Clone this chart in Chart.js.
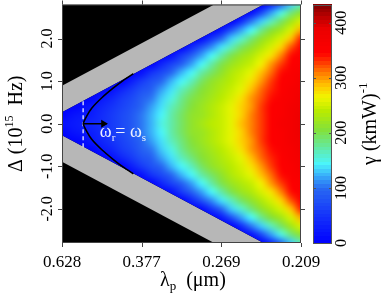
<!DOCTYPE html>
<html>
<head>
<meta charset="utf-8">
<script src="https://cdn.jsdelivr.net/npm/chart.js@4.4.0/dist/chart.umd.min.js"></script>
<style>
  html, body { margin: 0; padding: 0; background: #fff; }
  canvas { display: block; }
</style>
</head>
<body>
<canvas id="chart" width="382" height="293"></canvas>
<script>
// pump frequency columns (10^15 rad/s, linear axis, labelled as wavelength)
const omegaCols = [3.0, 3.25, 3.5, 3.75, 4.0, 4.25, 4.5, 4.75, 5.0, 5.25, 5.5, 5.75, 6.0,
                   6.25, 6.5, 6.75, 7.0, 7.25, 7.5, 7.75, 8.0, 8.25, 8.5, 8.75, 9.0];
// detuning rows (10^15 Hz), map is symmetric so only the upper half is listed
const deltaRows = [0, 0.2, 0.4, 0.6, 0.8, 1.0, 1.2, 1.4, 1.6, 1.8, 2.0, 2.2, 2.4, 2.6, 2.8];

// gamma (1/(km W)), one array per detuning row
const g00 = [16, 22, 28, 35, 44, 56, 70, 86, 104, 127, 149, 171, 193, 211, 224, 237, 250, 263, 285, 308, 330, 349, 359, 370, 380];
const g02 = [6, 14, 24, 33, 43, 55, 69, 85, 102, 125, 148, 170, 191, 210, 223, 236, 249, 262, 284, 307, 329, 348, 358, 369, 379];
const g04 = [2, 3, 11, 24, 38, 51, 65, 80, 97, 118, 141, 164, 186, 207, 220, 233, 246, 260, 279, 303, 325, 346, 356, 367, 377];
const g06 = [null, null, 2, 6, 22, 40, 55, 72, 89, 108, 131, 154, 176, 199, 215, 228, 242, 255, 272, 298, 321, 344, 355, 365, 375];
const g08 = [null, null, null, 2, 3, 16, 39, 58, 76, 94, 116, 140, 163, 186, 207, 221, 235, 249, 263, 288, 313, 335, 350, 360, 370];
const g10 = [null, null, null, null, null, 2, 4, 32, 56, 76, 97, 122, 146, 169, 193, 212, 227, 242, 257, 277, 303, 328, 348, 358, 368];
const g12 = [null, null, null, null, null, null, null, 2, 18, 49, 73, 97, 123, 148, 172, 196, 215, 231, 246, 262, 289, 316, 342, 354, 364];
const g14 = [null, null, null, null, null, null, null, null, 2, 4, 36, 66, 94, 121, 147, 172, 198, 217, 233, 250, 268, 301, 328, 349, 358];
const g16 = [null, null, null, null, null, null, null, null, null, null, 2, 16, 57, 88, 117, 144, 170, 197, 217, 235, 253, 276, 311, 339, 353];
const g18 = [null, null, null, null, null, null, null, null, null, null, null, 2, 3, 35, 75, 109, 138, 165, 193, 216, 235, 254, 283, 320, 347];
const g20 = [null, null, null, null, null, null, null, null, null, null, null, null, null, 2, 7, 54, 99, 129, 157, 186, 213, 233, 254, 288, 335];
const g22 = [null, null, null, null, null, null, null, null, null, null, null, null, null, null, null, 2, 25, 76, 116, 146, 176, 206, 229, 253, 293];
const g24 = [null, null, null, null, null, null, null, null, null, null, null, null, null, null, null, null, 2, 3, 46, 103, 134, 165, 196, 224, 252];
const g26 = [null, null, null, null, null, null, null, null, null, null, null, null, null, null, null, null, null, null, 2, 16, 72, 118, 150, 183, 212];
const g28 = [null, null, null, null, null, null, null, null, null, null, null, null, null, null, null, null, null, null, null, 2, 3, 36, 101, 135, 167];
const gammaRows = [g00, g02, g04, g06, g08, g10, g12, g14, g16, g18, g20, g22, g24, g26, g28];

// edges of the computed region and of the grey band (detuning at omega = 3 and 9)
const edgeW = [3, 9];
const innerEdge = [0.27, 3.27];
const outerEdge = [0.89, 3.89];

// resonance curve omega_r = omega_s
const curveW = [4.79, 4.54, 4.29, 4.0, 3.75, 3.62, 3.535, 3.62, 3.75, 4.0, 4.29, 4.54, 4.79];
const curveD = [1.175, 1.02, 0.84, 0.61, 0.37, 0.18, 0, -0.18, -0.37, -0.61, -0.84, -1.02, -1.175];
const dashW = [3.53, 3.53];
const dashD = [-0.55, 0.55];
const arrowW = [3.535, 4.12];
const arrowD = [0, 0];

// ticks
const xTickValues = [3, 5, 7, 9];
const xTickLabels = ['0.628', '0.377', '0.269', '0.209'];
const yTickValues = [-2, -1, 0, 1, 2];
const yTickLabels = ['-2.0', '-1.0', '0.0', '1.0', '2.0'];
const cbTickValues = [0, 100, 200, 300, 400];
const cbMax = 433;

// colour map (jet-like, starting at pure blue)
const cmapVals = [0, 50, 100, 125, 145, 170, 205, 240, 265, 285, 305, 325, 345, 390, 410, 433];
const cmapRGB = [[0, 0, 255], [20, 50, 250], [40, 105, 242], [58, 180, 250], [75, 245, 250],
                 [95, 235, 175], [130, 225, 60], [185, 235, 0], [240, 245, 0], [255, 200, 0],
                 [255, 140, 0], [255, 70, 0], [255, 0, 0], [235, 0, 0], [190, 0, 0], [130, 0, 0]];
const nLevels = 64;

const serif = '"Liberation Serif", "Times New Roman", serif';

function cmapRGBOf(v) {
    // snap to one of 64 levels like the original colour table
    let lv = Math.min(nLevels - 1, Math.max(0, Math.floor(v / cbMax * nLevels)));
    let q = (lv + 0.5) * cbMax / nLevels;
    let k = 0;
    while (k < cmapVals.length - 2 && q > cmapVals[k + 1]) k++;
    const t = Math.min(1, Math.max(0, (q - cmapVals[k]) / (cmapVals[k + 1] - cmapVals[k])));
    const a = cmapRGB[k], b = cmapRGB[k + 1];
    return [0, 1, 2].map(c => Math.round(a[c] + (b[c] - a[c]) * t));
}
function cmap(v) {
    const c = cmapRGBOf(v);
    return `rgb(${c[0]},${c[1]},${c[2]})`;
}

function drawRich(ctx, parts, x, y, size, align) {
    ctx.textAlign = 'left';
    let w = 0;
    parts.forEach(p => {
        ctx.font = `${p.size || size}px ${serif}`;
        p.w = ctx.measureText(p.t).width;
        w += p.w;
    });
    let cx = align === 'center' ? x - w / 2 : x;
    parts.forEach(p => {
        ctx.font = `${p.size || size}px ${serif}`;
        ctx.fillText(p.t, cx, y + (p.dy || 0));
        cx += p.w;
    });
}

// one pixel per data cell, upper half mirrored to the lower half
function buildCellImage() {
    const nr = deltaRows.length, nc = omegaCols.length;
    const off = document.createElement('canvas');
    off.width = nc;
    off.height = 2 * nr - 1;
    const octx = off.getContext('2d');
    const img = octx.createImageData(nc, 2 * nr - 1);
    for (let r = 0; r < 2 * nr - 1; r++) {
        const row = gammaRows[Math.abs(r - (nr - 1))];
        for (let i = 0; i < nc; i++) {
            const v = row[i] === null ? 0 : row[i];
            const c = cmapRGBOf(v);
            const o = (r * nc + i) * 4;
            img.data[o] = c[0]; img.data[o + 1] = c[1]; img.data[o + 2] = c[2]; img.data[o + 3] = 255;
        }
    }
    octx.putImageData(img, 0, 0);
    return off;
}
const cellImage = buildCellImage();

const heatPlugin = {
    id: 'heat',
    beforeDatasetsDraw(chart) {
        const { ctx, chartArea: a, scales } = chart;
        const px = v => scales.x.getPixelForValue(v);
        const py = v => scales.y.getPixelForValue(v);
        ctx.save();
        ctx.beginPath();
        ctx.rect(a.left, a.top, a.right - a.left, a.bottom - a.top);
        ctx.clip();
        ctx.fillStyle = '#000';
        ctx.fillRect(a.left, a.top, a.right - a.left, a.bottom - a.top);

        // grey bands
        ctx.fillStyle = '#b7b7b7';
        [1, -1].forEach(s => {
            ctx.beginPath();
            ctx.moveTo(px(edgeW[0]), py(s * outerEdge[0]));
            ctx.lineTo(px(edgeW[1]), py(s * outerEdge[1]));
            ctx.lineTo(px(edgeW[1]), py(s * innerEdge[1]));
            ctx.lineTo(px(edgeW[0]), py(s * innerEdge[0]));
            ctx.closePath();
            ctx.fill();
        });

        // computed region
        ctx.beginPath();
        ctx.moveTo(px(edgeW[0]), py(innerEdge[0]));
        ctx.lineTo(px(edgeW[1]), py(innerEdge[1]));
        ctx.lineTo(px(edgeW[1]), py(-innerEdge[1]));
        ctx.lineTo(px(edgeW[0]), py(-innerEdge[0]));
        ctx.closePath();
        ctx.clip();

        // cells placed through the scales, shaded smoothly between cell centres
        const hw = (omegaCols[1] - omegaCols[0]) / 2;
        const hh = (deltaRows[1] - deltaRows[0]) / 2;
        const dTop = deltaRows[deltaRows.length - 1] + hh;
        const x0 = px(omegaCols[0] - hw), x1 = px(omegaCols[omegaCols.length - 1] + hw);
        const y0 = py(dTop), y1 = py(-dTop);
        ctx.imageSmoothingEnabled = true;
        ctx.imageSmoothingQuality = 'high';
        ctx.drawImage(cellImage, x0, y0, x1 - x0, y1 - y0);
        ctx.restore();
    },
    afterDraw(chart) {
        const { ctx, chartArea: a, scales } = chart;
        const px = v => scales.x.getPixelForValue(v);
        const py = v => scales.y.getPixelForValue(v);
        ctx.save();

        // frame and outward ticks
        ctx.strokeStyle = '#444';
        ctx.lineWidth = 1;
        ctx.strokeRect(a.left + 0.5, a.top + 0.5, a.right - a.left - 1, a.bottom - a.top - 1);
        ctx.beginPath();
        xTickValues.forEach(v => {
            const x = Math.round(px(v)) + 0.5;
            ctx.moveTo(x, a.bottom); ctx.lineTo(x, a.bottom + 4);
            ctx.moveTo(x, a.top); ctx.lineTo(x, a.top - 4);
        });
        yTickValues.forEach(v => {
            const y = Math.round(py(v)) + 0.5;
            ctx.moveTo(a.left, y); ctx.lineTo(a.left - 4, y);
            ctx.moveTo(a.right, y); ctx.lineTo(a.right + 4, y);
        });
        ctx.stroke();

        // tick labels
        ctx.fillStyle = '#000';
        ctx.textAlign = 'center';
        ctx.textBaseline = 'alphabetic';
        ctx.font = `17px ${serif}`;
        xTickValues.forEach((v, i) => ctx.fillText(xTickLabels[i], px(v), a.bottom + 24));
        ctx.font = `16px ${serif}`;
        yTickValues.forEach((v, i) => {
            ctx.save();
            ctx.translate(a.left - 10, py(v));
            ctx.rotate(-Math.PI / 2);
            ctx.fillText(yTickLabels[i], 0, 0);
            ctx.restore();
        });

        // axis titles
        drawRich(ctx, [{ t: 'λ' }, { t: 'p', size: 13, dy: 4 }, { t: '  (μm)' }], 160, a.bottom + 43, 20, 'left');
        ctx.save();
        ctx.translate(22, (a.top + a.bottom) / 2);
        ctx.rotate(-Math.PI / 2);
        drawRich(ctx, [{ t: 'Δ (10' }, { t: '15', size: 12, dy: -9 }, { t: '  Hz)' }], 0, 0, 20, 'center');
        ctx.restore();

        // colour bar
        const cb = scales.cb;
        const cx0 = a.right + 12, cx1 = a.right + 31;
        for (let k = 0; k < nLevels; k++) {
            const v0 = k * cbMax / nLevels, v1 = (k + 1) * cbMax / nLevels;
            const yt = Math.floor(cb.getPixelForValue(v1));
            const yb = Math.ceil(cb.getPixelForValue(v0));
            ctx.fillStyle = cmap((v0 + v1) / 2);
            ctx.fillRect(cx0, yt, cx1 - cx0, yb - yt);
        }
        ctx.strokeStyle = '#555';
        ctx.strokeRect(cx0 + 0.5, Math.round(cb.getPixelForValue(cbMax)) + 0.5, cx1 - cx0 - 1,
                       Math.round(cb.getPixelForValue(0) - cb.getPixelForValue(cbMax)) - 1);
        ctx.beginPath();
        cbTickValues.slice(1).forEach(v => {
            const y = Math.round(cb.getPixelForValue(v)) + 0.5;
            ctx.moveTo(cx0, y); ctx.lineTo(cx0 + 3, y);
            ctx.moveTo(cx1, y); ctx.lineTo(cx1 - 3, y);
        });
        ctx.stroke();
        ctx.fillStyle = '#000';
        ctx.textAlign = 'center';
        ctx.font = `16px ${serif}`;
        cbTickValues.forEach(v => {
            ctx.save();
            ctx.translate(cx1 + 14, cb.getPixelForValue(v));
            ctx.rotate(-Math.PI / 2);
            ctx.fillText(String(v), 0, 0);
            ctx.restore();
        });
        ctx.save();
        ctx.translate(cx1 + 44, (a.top + a.bottom) / 2);
        ctx.rotate(-Math.PI / 2);
        drawRich(ctx, [{ t: 'γ (kmW)' }, { t: '-1', size: 13, dy: -9 }], 0, 0, 20, 'center');
        ctx.restore();

        // annotation
        ctx.fillStyle = 'rgba(255,255,255,0.92)';
        drawRich(ctx, [{ t: 'ω' }, { t: 'r', size: 11, dy: 4 }, { t: '= ' }, { t: 'ω' }, { t: 's', size: 11, dy: 4 }],
                 px(3.95), py(0) + 13, 18, 'left');
        ctx.restore();
    }
};

const toPts = (ws, ds) => ws.map((w, i) => ({ x: w, y: ds[i] }));

new Chart(document.getElementById('chart'), {
    type: 'scatter',
    data: {
        datasets: [
            { data: toPts(curveW, curveD), showLine: true, borderColor: '#000', borderWidth: 1.6, pointRadius: 0, tension: 0.12 },
            { data: toPts(dashW, dashD), showLine: true, borderColor: '#fff', borderWidth: 1.2, borderDash: [4, 3], pointRadius: 0 },
            { data: toPts(arrowW, arrowD), showLine: true, borderColor: '#000', borderWidth: 1.5, pointRadius: 0 },
            { data: [{ x: arrowW[1] - 0.08, y: 0 }], pointStyle: 'triangle', rotation: 90, pointRadius: 4.5,
              backgroundColor: '#000', borderColor: '#000', borderWidth: 0 }
        ]
    },
    options: {
        responsive: false,
        animation: false,
        devicePixelRatio: 1,
        layout: { padding: { left: 62, top: 4, right: 81, bottom: 50 } },
        plugins: { legend: { display: false }, tooltip: { enabled: false } },
        scales: {
            x: { type: 'linear', min: 3, max: 9, display: false },
            y: { type: 'linear', min: -2.8, max: 2.8, display: false },
            cb: { type: 'linear', axis: 'y', position: 'right', min: 0, max: cbMax, display: false }
        }
    },
    plugins: [heatPlugin]
});
</script>
</body>
</html>
